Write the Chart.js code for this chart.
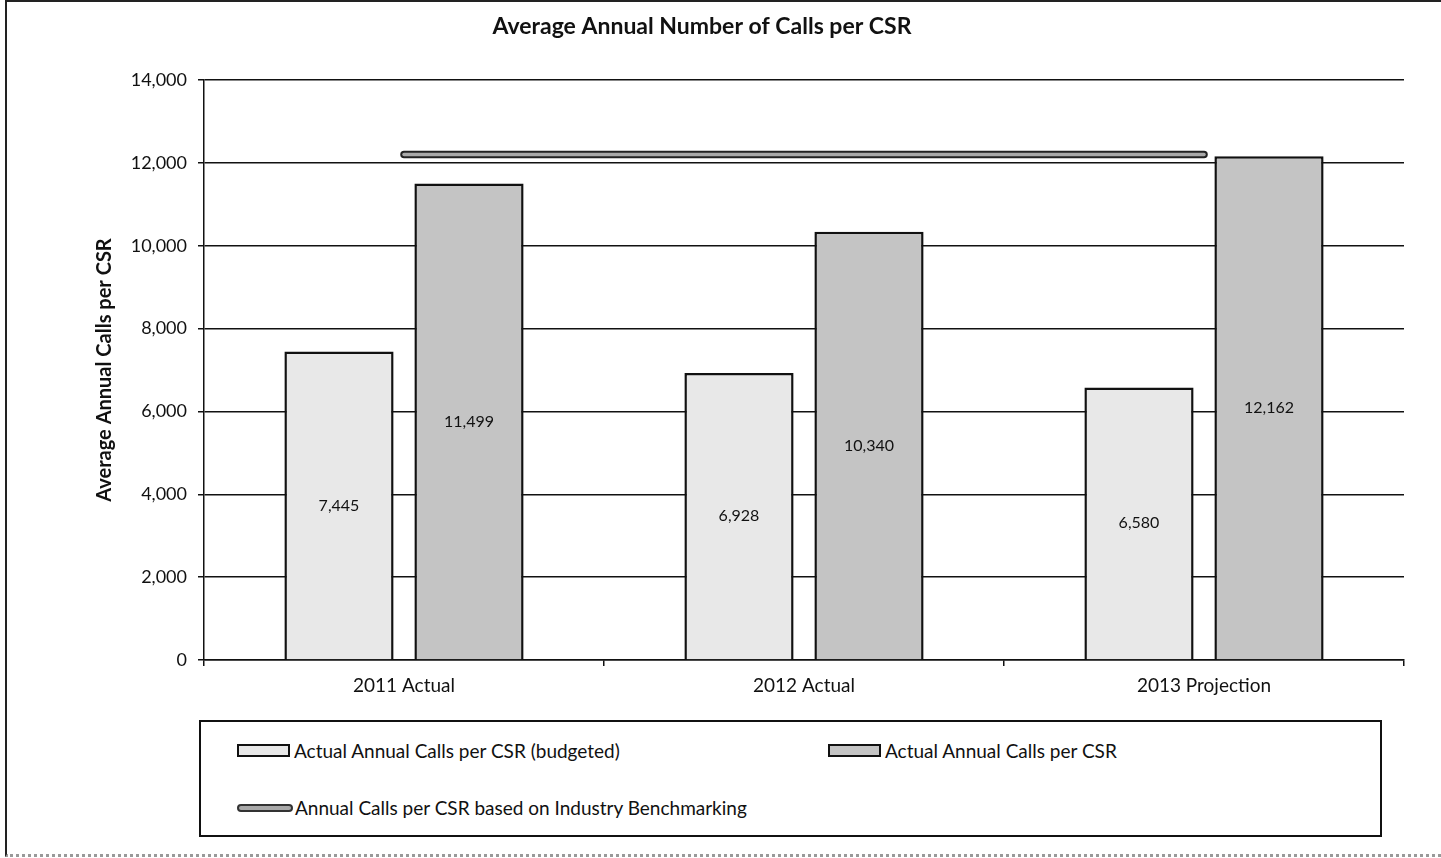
<!DOCTYPE html>
<html>
<head>
<meta charset="utf-8">
<script src="https://cdn.jsdelivr.net/npm/chart.js@4.4.1/dist/chart.umd.min.js"></script>
<style>
    body { margin: 0; background: #fff; font-family: Lato, sans-serif; }
    #wrap { position: relative; width: 1441px; height: 858px; overflow: hidden; }
    #frame { position: absolute; left: 5px; top: 0; width: 1440px; height: 852px;
             border-left: 2px solid #222; border-top: 2px solid #222; border-bottom: 3px dotted #999; }
    #legend { position: absolute; left: 199px; top: 720px; width: 1179px; height: 113px;
              border: 2px solid #111; background: #fff; font-size: 19px; color: #111; }
    .item { position: absolute; display: flex; align-items: center; }
    .sw { width: 49px; height: 9px; border: 2px solid #111; margin-right: 4px; }
    .ln { width: 52px; height: 4px; border: 2px solid #333; border-radius: 4px; background: #a9a9a9; margin-right: 2px; }
</style>
</head>
<body>
<div id="wrap">
    <div id="frame"></div>
    <canvas id="chart" width="1441" height="858"></canvas>
    <div id="legend"></div>
</div>
<script>
const categories = ["2011 Actual", "2012 Actual", "2013 Projection"];
const budgetedLabel = "Actual Annual Calls per CSR (budgeted)";
const budgetedValues = [7445, 6928, 6580];
const actualLabel = "Actual Annual Calls per CSR";
const actualValues = [11499, 10340, 12162];
const benchmarkLabel = "Annual Calls per CSR based on Industry Benchmarking";
const benchmarkValues = [12200, 12200, 12200];
const yTicks = [0, 2000, 4000, 6000, 8000, 10000, 12000, 14000];

const fmt = v => v.toLocaleString("en-US");

// numbers in the middle of each bar
const barLabels = {
    id: "barLabels",
    afterDatasetsDraw(chart) {
        const ctx = chart.ctx;
        ctx.save();
        ctx.font = "16px Lato";
        ctx.fillStyle = "#111";
        ctx.textAlign = "center";
        ctx.textBaseline = "middle";
        chart.data.datasets.forEach((ds, i) => {
            if (ds.type !== "bar") return;
            chart.getDatasetMeta(i).data.forEach((bar, j) => {
                ctx.fillText(fmt(ds.data[j]), bar.x, (bar.y + bar.base) / 2);
            });
        });
        ctx.restore();
    }
};

new Chart(document.getElementById("chart"), {
    data: {
        labels: categories,
        datasets: [
            {
                type: "line",
                label: benchmarkLabel,
                data: benchmarkValues,
                borderColor: "#a9a9a9",
                borderWidth: 3.5,
                borderCapStyle: "round",
                pointRadius: 0,
                order: 0
            },
            {
                type: "line",
                label: benchmarkLabel + " outline",
                data: benchmarkValues,
                borderColor: "#222",
                borderWidth: 7.5,
                borderCapStyle: "round",
                pointRadius: 0,
                order: 1
            },
            {
                type: "bar",
                label: budgetedLabel,
                data: budgetedValues,
                backgroundColor: "#e8e8e8",
                borderColor: "#111",
                borderWidth: 2.5,
                categoryPercentage: 0.65,
                barPercentage: 0.84,
                order: 2
            },
            {
                type: "bar",
                label: actualLabel,
                data: actualValues,
                backgroundColor: "#c4c4c4",
                borderColor: "#111",
                borderWidth: 2.5,
                categoryPercentage: 0.65,
                barPercentage: 0.84,
                order: 2
            }
        ]
    },
    options: {
        responsive: false,
        animation: false,
        layout: { padding: { left: 0, right: 37, top: 0, bottom: 0 } },
        scales: {
            x: {
                offset: true,
                grid: { display: true, drawOnChartArea: false, offset: true, color: "#111", tickLength: 6, lineWidth: 1.5 },
                border: { color: "#111", width: 1.5 },
                ticks: { color: "#111", font: { family: "Lato", size: 19 }, padding: 8 },
                afterFit: scale => { scale.height = 198; }
            },
            y: {
                min: 0,
                max: 14000,
                afterBuildTicks: scale => { scale.ticks = yTicks.map(v => ({ value: v })); },
                grid: { color: "#111", lineWidth: 1.5, tickLength: 6 },
                border: { color: "#111", width: 1.5 },
                ticks: { color: "#111", font: { family: "Lato", size: 18 }, padding: 11, callback: v => fmt(v) },
                title: {
                    display: true,
                    text: "Average Annual Calls per CSR",
                    color: "#111",
                    font: { family: "Lato", size: 20, weight: "bold" },
                    padding: { top: 93, bottom: 0 }
                },
                afterFit: scale => { scale.width = 204; }
            }
        },
        plugins: {
            legend: { display: false },
            tooltip: { enabled: false },
            title: {
                display: true,
                text: "Average Annual Number of Calls per CSR",
                color: "#111",
                font: { family: "Lato", size: 23, weight: "bold" },
                padding: { top: 13, bottom: 39.4 }
            }
        }
    },
    plugins: [barLabels]
});

// legend laid out like the original two-column box
const legendItems = [
    { text: budgetedLabel, cls: "sw", bg: "#e8e8e8", x: 36, y: 29 },
    { text: actualLabel, cls: "sw", bg: "#c4c4c4", x: 627, y: 29 },
    { text: benchmarkLabel, cls: "ln", bg: "#a9a9a9", x: 36, y: 86 }
];
const legend = document.getElementById("legend");
legendItems.forEach(it => {
    const d = document.createElement("div");
    d.className = "item";
    d.style.left = it.x + "px";
    d.style.top = (it.y - 12) + "px";
    d.innerHTML = `<span class="${it.cls}" style="background:${it.bg}"></span><span>${it.text}</span>`;
    legend.appendChild(d);
});
</script>
</body>
</html>
